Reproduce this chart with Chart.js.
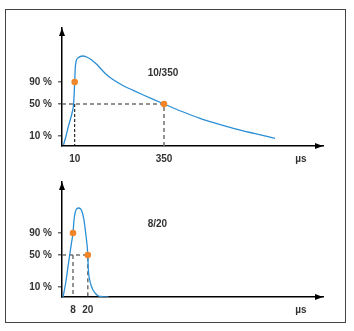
<!DOCTYPE html>
<html lang="en">
<head>
<meta charset="UTF-8">
<title>Surge current waveforms 10/350 and 8/20</title>
<script src="https://cdn.jsdelivr.net/npm/chart.js@4.4.1/dist/chart.umd.min.js"></script>
<style>
    body {
        margin: 0;
        background: #fff;
        width: 354px;
        height: 331px;
        position: relative;
        overflow: hidden;
    }
    .frame {
        position: absolute;
        left: 5px;
        top: 9px;
        width: 339px;
        height: 312px;
        border: 1.5px solid #444;
    }
    .plot {
        position: absolute;
        left: 0;
    }
</style>
</head>
<body>
<div class="frame"></div>
<canvas id="pulse1" class="plot" width="354" height="165" style="top:0"></canvas>
<canvas id="pulse2" class="plot" width="354" height="166" style="top:165px"></canvas>

<script>
// Level axis is schematic: values are drawing units above the time axis
const levelTicks = [10, 42, 64];
const levelLabels = ['10 %', '50 %', '90 %'];
const timeUnit = 'µs';
const timeUnitAt = 239;

// 10/350 pulse
const longTime  = [1.5, 4, 6.3, 10.5, 11.6, 12.7, 13.2, 14.2, 16.3, 20.7, 24.7, 29.7, 34.7, 39.7, 44.7, 51.3, 61.3, 71.3, 81.3, 91.3, 102, 120, 138, 155, 171.3, 192, 213];
const longLevel = [1, 10, 19.3, 35, 42, 64, 77, 85, 88.3, 90, 89, 86, 81.7, 76.3, 71.2, 66.2, 60.3, 55.6, 51, 46.6, 42, 34.5, 27.7, 22.4, 17.7, 12.6, 7.7];
const longTicks = [12.7, 102];
const longTickLabels = ['10', '350'];

// 8/20 pulse
const shortTime  = [1, 3.5, 6, 7.7, 9.4, 11, 12, 13.4, 15, 16.7, 18.4, 19.6, 21.7, 23.7, 25.8, 26.3, 27.7, 29.5, 31, 33.5, 36, 40, 46.5];
const shortLevel = [0, 13, 30.3, 42, 53.7, 64, 77, 85.3, 88.5, 89, 88.3, 86.5, 78.7, 63.7, 42, 28, 17, 10.5, 7, 3.5, 1.3, 0.4, 0];
const shortTicks = [11, 25.8];
const shortTickLabels = ['8', '20'];

const FONT = { family: '"Liberation Sans", Arial, sans-serif', size: 10, weight: 'bold' };
const TEXT = '#333';
const CURVE = '#2b8fd4';
const MARK = '#f0862a';
const GUIDE = '#707070';

// arrow heads on the ends of both axes
const axisArrows = {
    id: 'axisArrows',
    afterDraw(chart) {
        const { ctx, chartArea: a } = chart;
        ctx.save();
        ctx.fillStyle = '#000';
        ctx.beginPath();
        ctx.moveTo(a.left, a.top);
        ctx.lineTo(a.left - 3, a.top + 8);
        ctx.lineTo(a.left + 3, a.top + 8);
        ctx.closePath();
        ctx.moveTo(a.right, a.bottom);
        ctx.lineTo(a.right - 8, a.bottom - 3);
        ctx.lineTo(a.right - 8, a.bottom + 3);
        ctx.closePath();
        ctx.fill();
        ctx.restore();
    }
};

// pulse name written inside the plot
const pulseName = {
    id: 'pulseName',
    afterDatasetsDraw(chart, args, opts) {
        const { ctx, scales } = chart;
        ctx.save();
        ctx.font = FONT.weight + ' ' + FONT.size + 'px ' + FONT.family;
        ctx.fillStyle = TEXT;
        ctx.textAlign = 'center';
        ctx.textBaseline = 'middle';
        ctx.fillText(opts.text, scales.x.getPixelForValue(opts.x), scales.y.getPixelForValue(opts.y));
        ctx.restore();
    }
};

function toPoints(xs, ys) {
    return xs.map((x, i) => ({ x: x, y: ys[i] }));
}

function drawPulse(id, cfg) {
    const lv50 = levelTicks[1];
    const lv90 = levelTicks[2];
    const t1 = cfg.ticks[0];
    const t2 = cfg.ticks[1];
    const xTicks = cfg.ticks.concat([timeUnitAt]);
    const xLabels = cfg.tickLabels.concat([timeUnit]);

    new Chart(document.getElementById(id), {
        type: 'line',
        data: {
            datasets: [
                {
                    data: [{ x: t1, y: lv90 }, { x: t2, y: lv50 }],
                    showLine: false,
                    pointRadius: 3.3,
                    pointBackgroundColor: MARK,
                    pointBorderWidth: 0,
                    order: 0
                },
                {
                    data: toPoints(cfg.time, cfg.level),
                    borderColor: CURVE,
                    borderWidth: 1.3,
                    cubicInterpolationMode: 'monotone',
                    pointRadius: 0,
                    order: 1
                },
                {
                    data: [{ x: 0, y: lv50 }, { x: t2, y: lv50 }, { x: t2, y: 0 }],
                    borderColor: GUIDE,
                    borderWidth: 1.5,
                    borderDash: [4, 3],
                    pointRadius: 0,
                    order: 2
                },
                {
                    data: [{ x: t1, y: lv50 }, { x: t1, y: 0 }],
                    borderColor: cfg.firstGuide.color,
                    borderWidth: cfg.firstGuide.width,
                    borderDash: cfg.firstGuide.dash,
                    pointRadius: 0,
                    order: 2
                }
            ]
        },
        options: {
            responsive: false,
            animation: false,
            layout: { padding: { top: cfg.padTop, right: 31, left: 0, bottom: 0 } },
            plugins: {
                legend: { display: false },
                tooltip: { enabled: false },
                pulseName: { text: cfg.name, x: cfg.nameAt[0], y: cfg.nameAt[1] }
            },
            scales: {
                x: {
                    type: 'linear',
                    min: 0,
                    max: 261,
                    afterBuildTicks: s => { s.ticks = xTicks.map(v => ({ value: v })); },
                    afterFit: s => { s.height = cfg.axisHeight; },
                    ticks: {
                        autoSkip: false,
                        maxRotation: 0,
                        padding: 7,
                        color: TEXT,
                        font: FONT,
                        callback: (v, i) => xLabels[i]
                    },
                    grid: { display: false, drawTicks: false },
                    border: { display: true, color: '#000', width: 1.5 }
                },
                y: {
                    type: 'linear',
                    min: 0,
                    max: cfg.yMax,
                    afterBuildTicks: s => { s.ticks = levelTicks.map(v => ({ value: v })); },
                    afterFit: s => { s.width = 62; },
                    ticks: {
                        padding: 6,
                        color: TEXT,
                        font: FONT,
                        callback: (v, i) => levelLabels[i]
                    },
                    grid: { drawOnChartArea: false, drawTicks: true, tickLength: 4, color: GUIDE, lineWidth: 1.5 },
                    border: { display: true, color: '#000', width: 1.5 }
                }
            }
        },
        plugins: [axisArrows, pulseName]
    });
}

drawPulse('pulse1', {
    time: longTime,
    level: longLevel,
    ticks: longTicks,
    tickLabels: longTickLabels,
    name: '10/350',
    nameAt: [101, 73],
    firstGuide: { color: '#000', width: 1, dash: [3, 2] },
    padTop: 28,
    axisHeight: 19,
    yMax: 118
});

drawPulse('pulse2', {
    time: shortTime,
    level: shortLevel,
    ticks: shortTicks,
    tickLabels: shortTickLabels,
    name: '8/20',
    nameAt: [95.4, 73],
    firstGuide: { color: GUIDE, width: 1.5, dash: [4, 3] },
    padTop: 17,
    axisHeight: 34,
    yMax: 115
});
</script>
</body>
</html>
